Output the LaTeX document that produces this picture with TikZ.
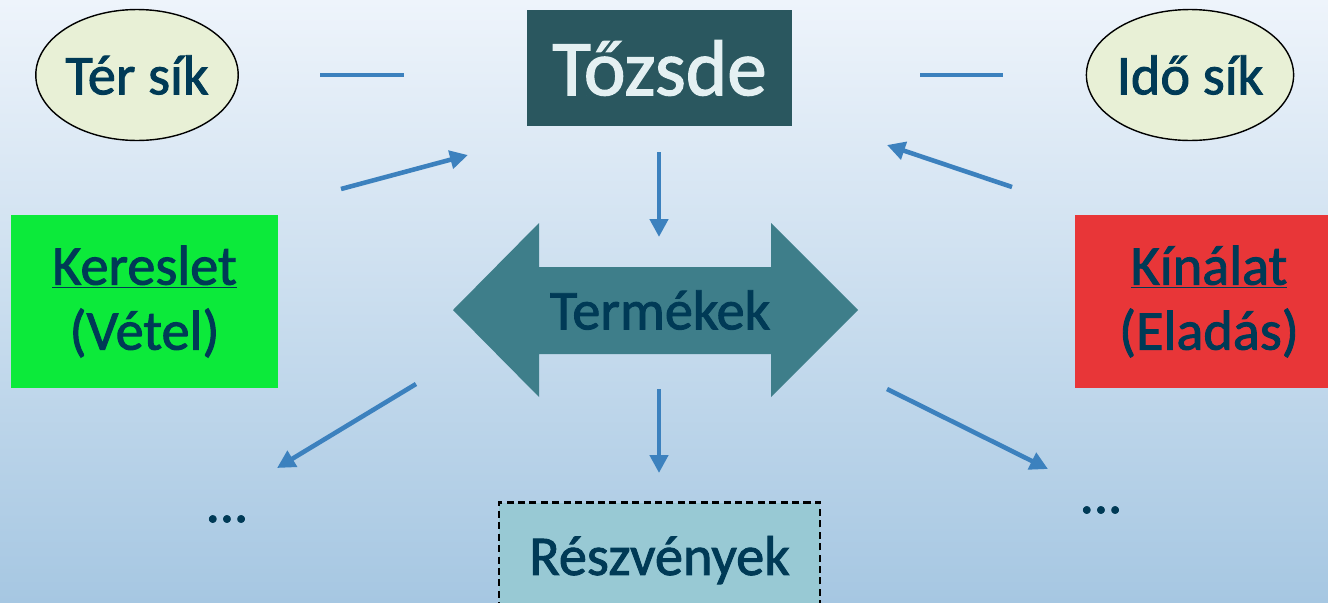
\documentclass[tikz,border=0pt]{standalone}
\usepackage{fontspec}
\setmainfont[FakeBold=1.6,AutoFakeBold=1.6]{Carlito}
\newfontfamily\heavy[FakeBold=1.6]{Carlito}
\usetikzlibrary{arrows.meta,shapes.geometric,positioning}
\definecolor{navy}{RGB}{0,58,86}
\definecolor{steel}{RGB}{60,129,190}
\definecolor{cream}{RGB}{232,240,214}
\definecolor{darkteal}{RGB}{42,87,95}
\definecolor{midteal}{RGB}{62,126,138}
\definecolor{paleteal}{RGB}{152,201,212}
\definecolor{buygreen}{RGB}{12,234,58}
\definecolor{sellred}{RGB}{232,54,56}
\definecolor{bgtop}{RGB}{238,244,251}
\definecolor{bgbot}{RGB}{166,199,226}
\begin{document}
\begin{tikzpicture}[x=0.02cm,y=-0.02cm,
    big/.style={font=\heavy\fontsize{32}{37}\selectfont,text=navy},
    plane/.style={ellipse,draw=black,line width=0.8pt,fill=cream,inner sep=0pt,minimum width=4cm,minimum height=2.62cm,big},
    side/.style={rectangle,inner sep=0pt,minimum width=5.35cm,minimum height=3.46cm,align=center,big},
    flow/.style={draw=steel,line width=2.6pt,-{Triangle[length=0.36cm,width=0.36cm]}},
    link/.style={draw=steel,line width=2.6pt}]
    \useasboundingbox (0,0) rectangle (1328,602);
    \clip (0,0) rectangle (1328,602);
    \shade[top color=bgtop,bottom color=bgbot] (0,0) rectangle (1328,602);
    % nodes
    \node[plane] (terSik) at (137,75) {Tér sík};
    \node[plane] (idoSik) at (1190,75) {Idő sík};
    \node[rectangle,fill=darkteal,minimum width=5.3cm,minimum height=2.32cm,text={rgb,255:red,228;green,240;blue,242},font=\heavy\fontsize{45}{54}\selectfont] (tozsde) at (659.5,68) {Tőzsde};
    \node[side,fill=buygreen] (kereslet) at (144.5,301.5) {\underline{Kereslet}\\(Vétel)};
    \node[side,fill=sellred] (kinalat) at (1209,301.5) {\underline{Kínálat}\\(Eladás)};
    \fill[midteal] (453,310) -- (539,223) -- (539,267) -- (771,267) -- (771,223) -- (858,310) -- (771,397) -- (771,354) -- (539,354) -- (539,397) -- cycle;
    \node[big] (termekek) at (660,310) {Termékek};
    \node[rectangle,draw=black,dash pattern=on 4pt off 2.5pt,line width=1.3pt,fill=paleteal,minimum width=6.42cm,minimum height=2.3cm,big] (reszvenyek) at (659.5,560) {Részvények};
    \node[big] (dotsL) at (227,519) {...};
    \node[big] (dotsR) at (1101,510) {...};
    % connector ends
    \coordinate (lA) at (320,75);  \coordinate (lB) at (404,75);
    \coordinate (rA) at (920,75);  \coordinate (rB) at (1003,75);
    \coordinate (kT) at (341,189); \coordinate (kH) at (468,155);
    \coordinate (eT) at (1012,187);\coordinate (eH) at (887,145);
    \coordinate (dT) at (659,152); \coordinate (dH) at (659,237);
    \coordinate (pT) at (659,389); \coordinate (pH) at (659,473);
    \coordinate (qT) at (416,384); \coordinate (qH) at (277,468);
    \coordinate (sT) at (887,389); \coordinate (sH) at (1048,469);
    % connectors
    \draw[link] (lA) -- (lB);
    \draw[link] (rA) -- (rB);
    \draw[flow] (kT) -- (kH);
    \draw[flow] (eT) -- (eH);
    \draw[flow] (dT) -- (dH);
    \draw[flow] (pT) -- (pH);
    \draw[flow] (qT) -- (qH);
    \draw[flow] (sT) -- (sH);
\end{tikzpicture}
\end{document}
